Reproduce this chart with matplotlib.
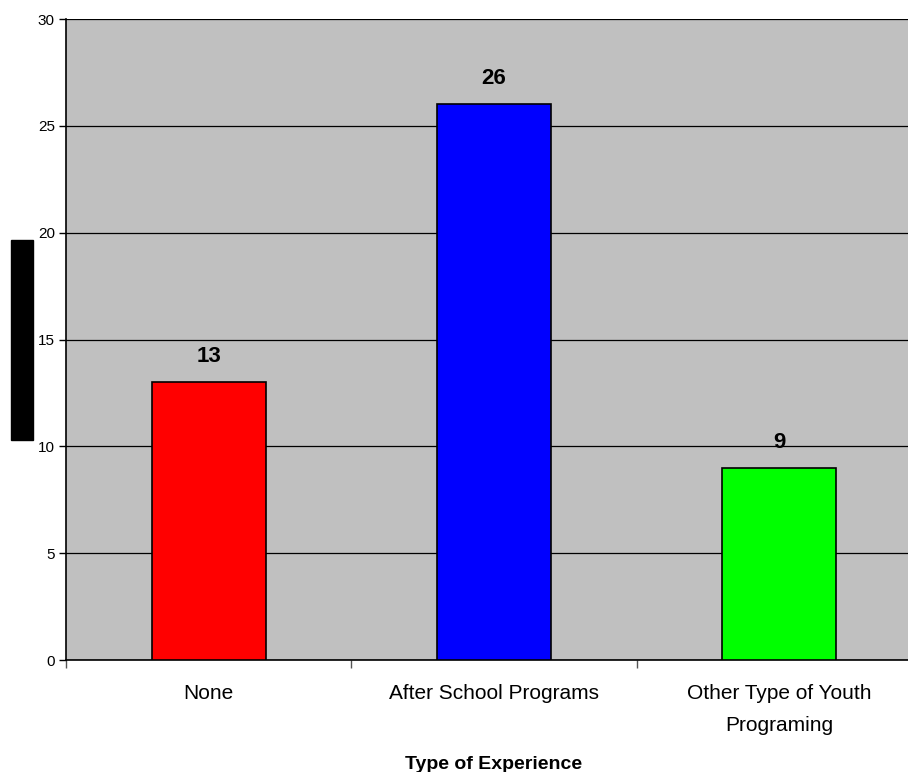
import matplotlib.pyplot as plt
from matplotlib.patches import Rectangle

plt.rcParams['font.family'] = ['Liberation Sans', 'DejaVu Sans']

# data
categories = ['None', 'After School Programs', 'Other Type of Youth\nPrograming']
values = [13, 26, 9]
colors = ['#ff0000', '#0000ff', '#00ff00']
y_ticks = [0, 5, 10, 15, 20, 25, 30]

fig = plt.figure(figsize=(9.08, 7.72), dpi=100)
ax = fig.add_axes([66 / 908, 112 / 772, 856 / 908, 641 / 772])
ax.set_facecolor('#c0c0c0')

x = [i + 0.5 for i in range(len(categories))]
ax.bar(x, values, width=0.4, color=colors, edgecolor='black', linewidth=1.2, zorder=3)

for xi, v in zip(x, values):
    ax.annotate(str(v), (xi, v), xytext=(0, 18.5), textcoords='offset points',
                ha='center', va='center', fontsize=16, fontweight='bold')

ax.set_xlim(0, 3)
ax.set_ylim(0, 30)
ax.set_yticks(y_ticks)
ax.tick_params(axis='y', labelsize=11, length=5, width=1, direction='out', pad=3)
ax.yaxis.grid(True, color='black', linewidth=0.9, zorder=1)
ax.set_axisbelow(True)

# category boundaries as ticks, names centered in between
ax.set_xticks([0, 1, 2, 3])
ax.set_xticklabels([])
ax.set_xticks(x, minor=True)
ax.set_xticklabels(categories, minor=True, fontsize=15, linespacing=1.85)
ax.tick_params(axis='x', which='major', length=6, width=1, color='#555555')
ax.tick_params(axis='x', which='minor', length=0, pad=17.5)

ax.set_xlabel('Type of Experience', fontsize=14, fontweight='bold', labelpad=15)

for s in ['top', 'right']:
    ax.spines[s].set_visible(False)
ax.spines['left'].set_linewidth(1.2)
ax.spines['bottom'].set_linewidth(1.2)

# redacted axis title
fig.patches.append(Rectangle((11 / 908, 332 / 772), 22 / 908, 200 / 772,
                             transform=fig.transFigure, color='black'))

fig.savefig('out.png', dpi=100)
